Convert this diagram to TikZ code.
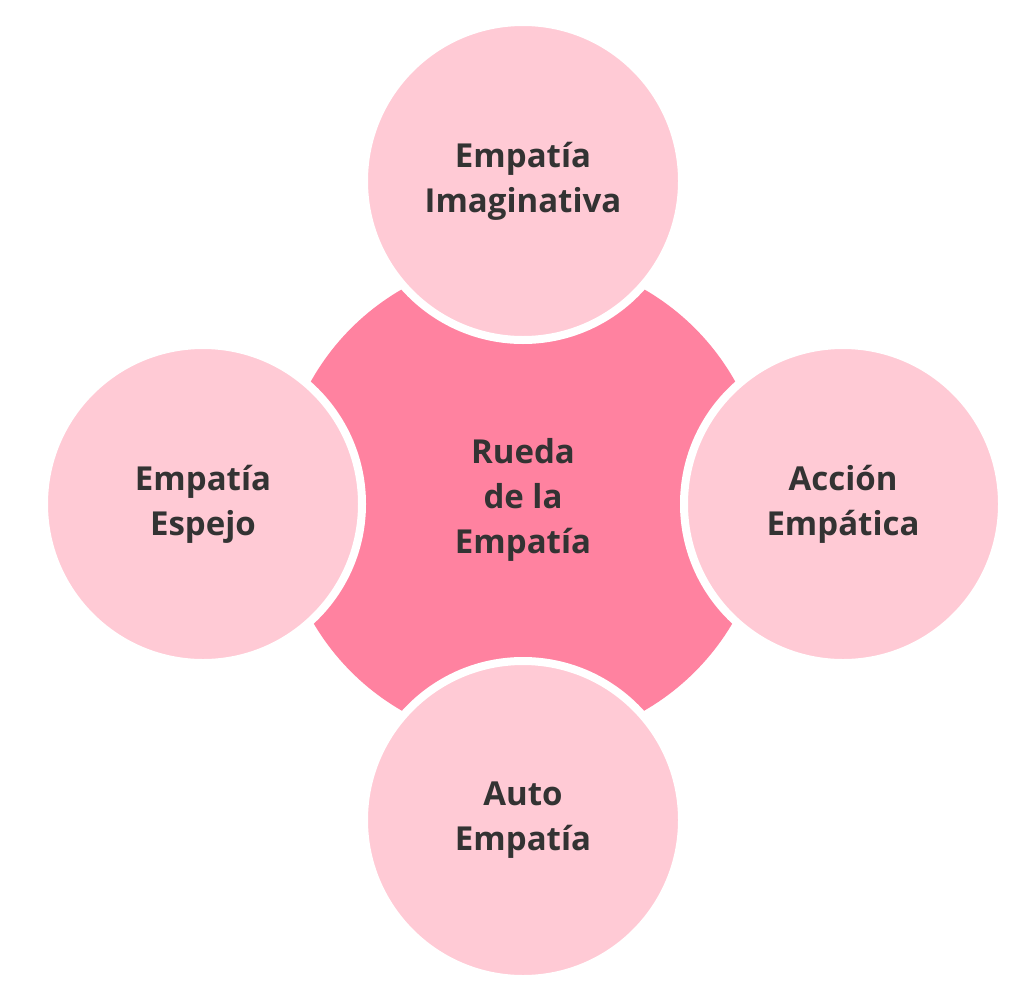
\documentclass[tikz,border=0pt]{standalone}
\usepackage{fontspec}
\setmainfont{Open Sans}
\usetikzlibrary{positioning}
\definecolor{hubpink}{HTML}{FF82A0}
\definecolor{petalpink}{HTML}{FFCAD5}
\definecolor{txtgray}{HTML}{333333}
\tikzset{
  petal/.style={circle, fill=petalpink, draw=white, line width=8pt, minimum size=318pt, inner sep=0pt, align=center,
    font=\fontsize{33}{45}\selectfont\bfseries, text=txtgray},
  hub/.style={circle, fill=hubpink, minimum size=486pt, inner sep=0pt, align=center,
    font=\fontsize{33}{45}\selectfont\bfseries, text=txtgray}
}
\begin{document}
\begin{tikzpicture}[x=1pt,y=-1pt]
        \useasboundingbox (0,0) rectangle (1024,998);
        % centre
        \node[hub] (wheel) at (523,500) {Rueda\\de la\\Empatía};
        % petals
        \node[petal] (imag) at (523,181) {Empatía\\Imaginativa};
        \node[petal] (mirror) at (203,504) {Empatía\\Espejo};
        \node[petal] (action) at (843,504) {Acción\\Empática};
        \node[petal] (self) at (523,820) {Auto\\Empatía};
\end{tikzpicture}
\end{document}
